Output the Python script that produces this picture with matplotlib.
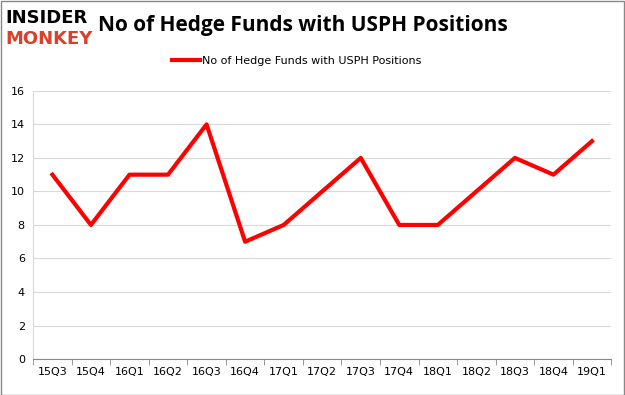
import matplotlib.pyplot as plt
import numpy as np

quarters = ["15Q3", "15Q4", "16Q1", "16Q2", "16Q3", "16Q4", "17Q1", "17Q2",
            "17Q3", "17Q4", "18Q1", "18Q2", "18Q3", "18Q4", "19Q1"]
funds = [11, 8, 11, 11, 14, 7, 8, 10, 12, 8, 8, 10, 12, 11, 13]
y_ticks = [0, 2, 4, 6, 8, 10, 12, 14, 16]

fig = plt.figure(figsize=(6.25, 3.95), dpi=100)
ax = fig.add_axes([0.053, 0.091, 0.925, 0.679])

x = np.arange(len(quarters))
ax.plot(x, funds, color="#ff0000", linewidth=3, label="No of Hedge Funds with USPH Positions")

ax.set_xlim(-0.5, len(quarters) - 0.5)
ax.set_ylim(0, 16)
ax.set_yticks(y_ticks)
ax.set_xticks(x)
ax.set_xticklabels(quarters)
ax.set_xticks(np.arange(-0.5, len(quarters)), minor=True)
ax.tick_params(axis="x", which="major", length=0, labelsize=8, pad=6)
ax.tick_params(axis="x", which="minor", length=4, color="#888888")
ax.tick_params(axis="y", length=0, labelsize=8, pad=6)
ax.grid(axis="y", color="#d9d9d9", linewidth=0.8)
ax.set_axisbelow(True)
for side in ["top", "right"]:
    ax.spines[side].set_visible(False)
ax.spines["left"].set_color("#d9d9d9")
ax.spines["bottom"].set_color("#888888")

fig.legend(loc="center", bbox_to_anchor=(0.475, 0.845), frameon=False,
           fontsize=8, handlelength=2.5, handletextpad=0.2)

fig.text(0.008, 0.955, "INSIDER", fontsize=13, fontweight="bold", color="black",
         va="center", ha="left", family="DejaVu Sans")
fig.text(0.008, 0.9, "MONKEY", fontsize=13, fontweight="bold", color="#d9412b",
         va="center", ha="left", family="DejaVu Sans")
fig.text(0.485, 0.935, "No of Hedge Funds with USPH Positions", fontsize=15,
         fontweight="bold", ha="center", va="center", family="Open Sans")

fig.patches.append(plt.Rectangle((0.001, 0.001), 0.997, 0.997, transform=fig.transFigure,
                                 fill=False, edgecolor="#888888", linewidth=1))

fig.savefig("out.png", dpi=100)
